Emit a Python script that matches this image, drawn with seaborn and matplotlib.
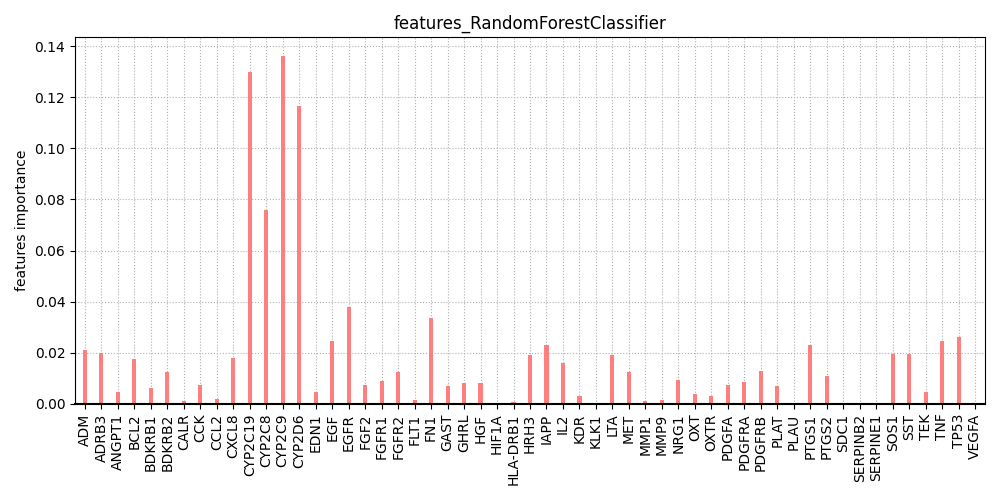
import pandas as pd
import matplotlib
matplotlib.use('Agg')
import matplotlib.pyplot as plt
import seaborn as sns

genes = ['ADM', 'ADRB3', 'ANGPT1', 'BCL2', 'BDKRB1', 'BDKRB2', 'CALR', 'CCK', 'CCL2', 'CXCL8',
         'CYP2C19', 'CYP2C8', 'CYP2C9', 'CYP2D6', 'EDN1', 'EGF', 'EGFR', 'FGF2', 'FGFR1', 'FGFR2',
         'FLT1', 'FN1', 'GAST', 'GHRL', 'HGF', 'HIF1A', 'HLA-DRB1', 'HRH3', 'IAPP', 'IL2',
         'KDR', 'KLK1', 'LTA', 'MET', 'MMP1', 'MMP9', 'NRG1', 'OXT', 'OXTR', 'PDGFA',
         'PDGFRA', 'PDGFRB', 'PLAT', 'PLAU', 'PTGS1', 'PTGS2', 'SDC1', 'SERPINB2', 'SERPINE1', 'SOS1',
         'SST', 'TEK', 'TNF', 'TP53', 'VEGFA']
importance = [0.021, 0.020, 0.0045, 0.0175, 0.006, 0.0125, 0.001, 0.0075, 0.002, 0.018,
              0.130, 0.076, 0.136, 0.1165, 0.0045, 0.0245, 0.038, 0.0075, 0.009, 0.0125,
              0.0015, 0.0335, 0.007, 0.008, 0.008, 0.0003, 0.0008, 0.019, 0.023, 0.016,
              0.003, 0.0003, 0.019, 0.0125, 0.001, 0.0015, 0.0095, 0.004, 0.003, 0.0075,
              0.0085, 0.013, 0.007, 0.0003, 0.023, 0.011, 0.0002, 0.0002, 0.0002, 0.0195,
              0.0195, 0.0045, 0.0245, 0.026, 0.0002]

df = pd.DataFrame({'gene': genes, 'importance': importance})

fig, ax = plt.subplots(figsize=(10, 5), dpi=100)
sns.barplot(data=df, x='gene', y='importance', color='#FF7F7F', saturation=1,
            width=0.25, ax=ax)
ax.set_axisbelow(True)
ax.grid(True, linestyle=':', color='#b0b0b0')
ax.set_title('features_RandomForestClassifier')
ax.set_xlabel('')
ax.set_ylabel('features importance')
ax.set_xlim(-0.6, len(genes) - 0.4)
ax.set_ylim(0, 0.1435)
ax.spines['bottom'].set_linewidth(1.5)
plt.xticks(rotation=90, fontsize=10)
plt.tight_layout()
plt.savefig('out.png')
